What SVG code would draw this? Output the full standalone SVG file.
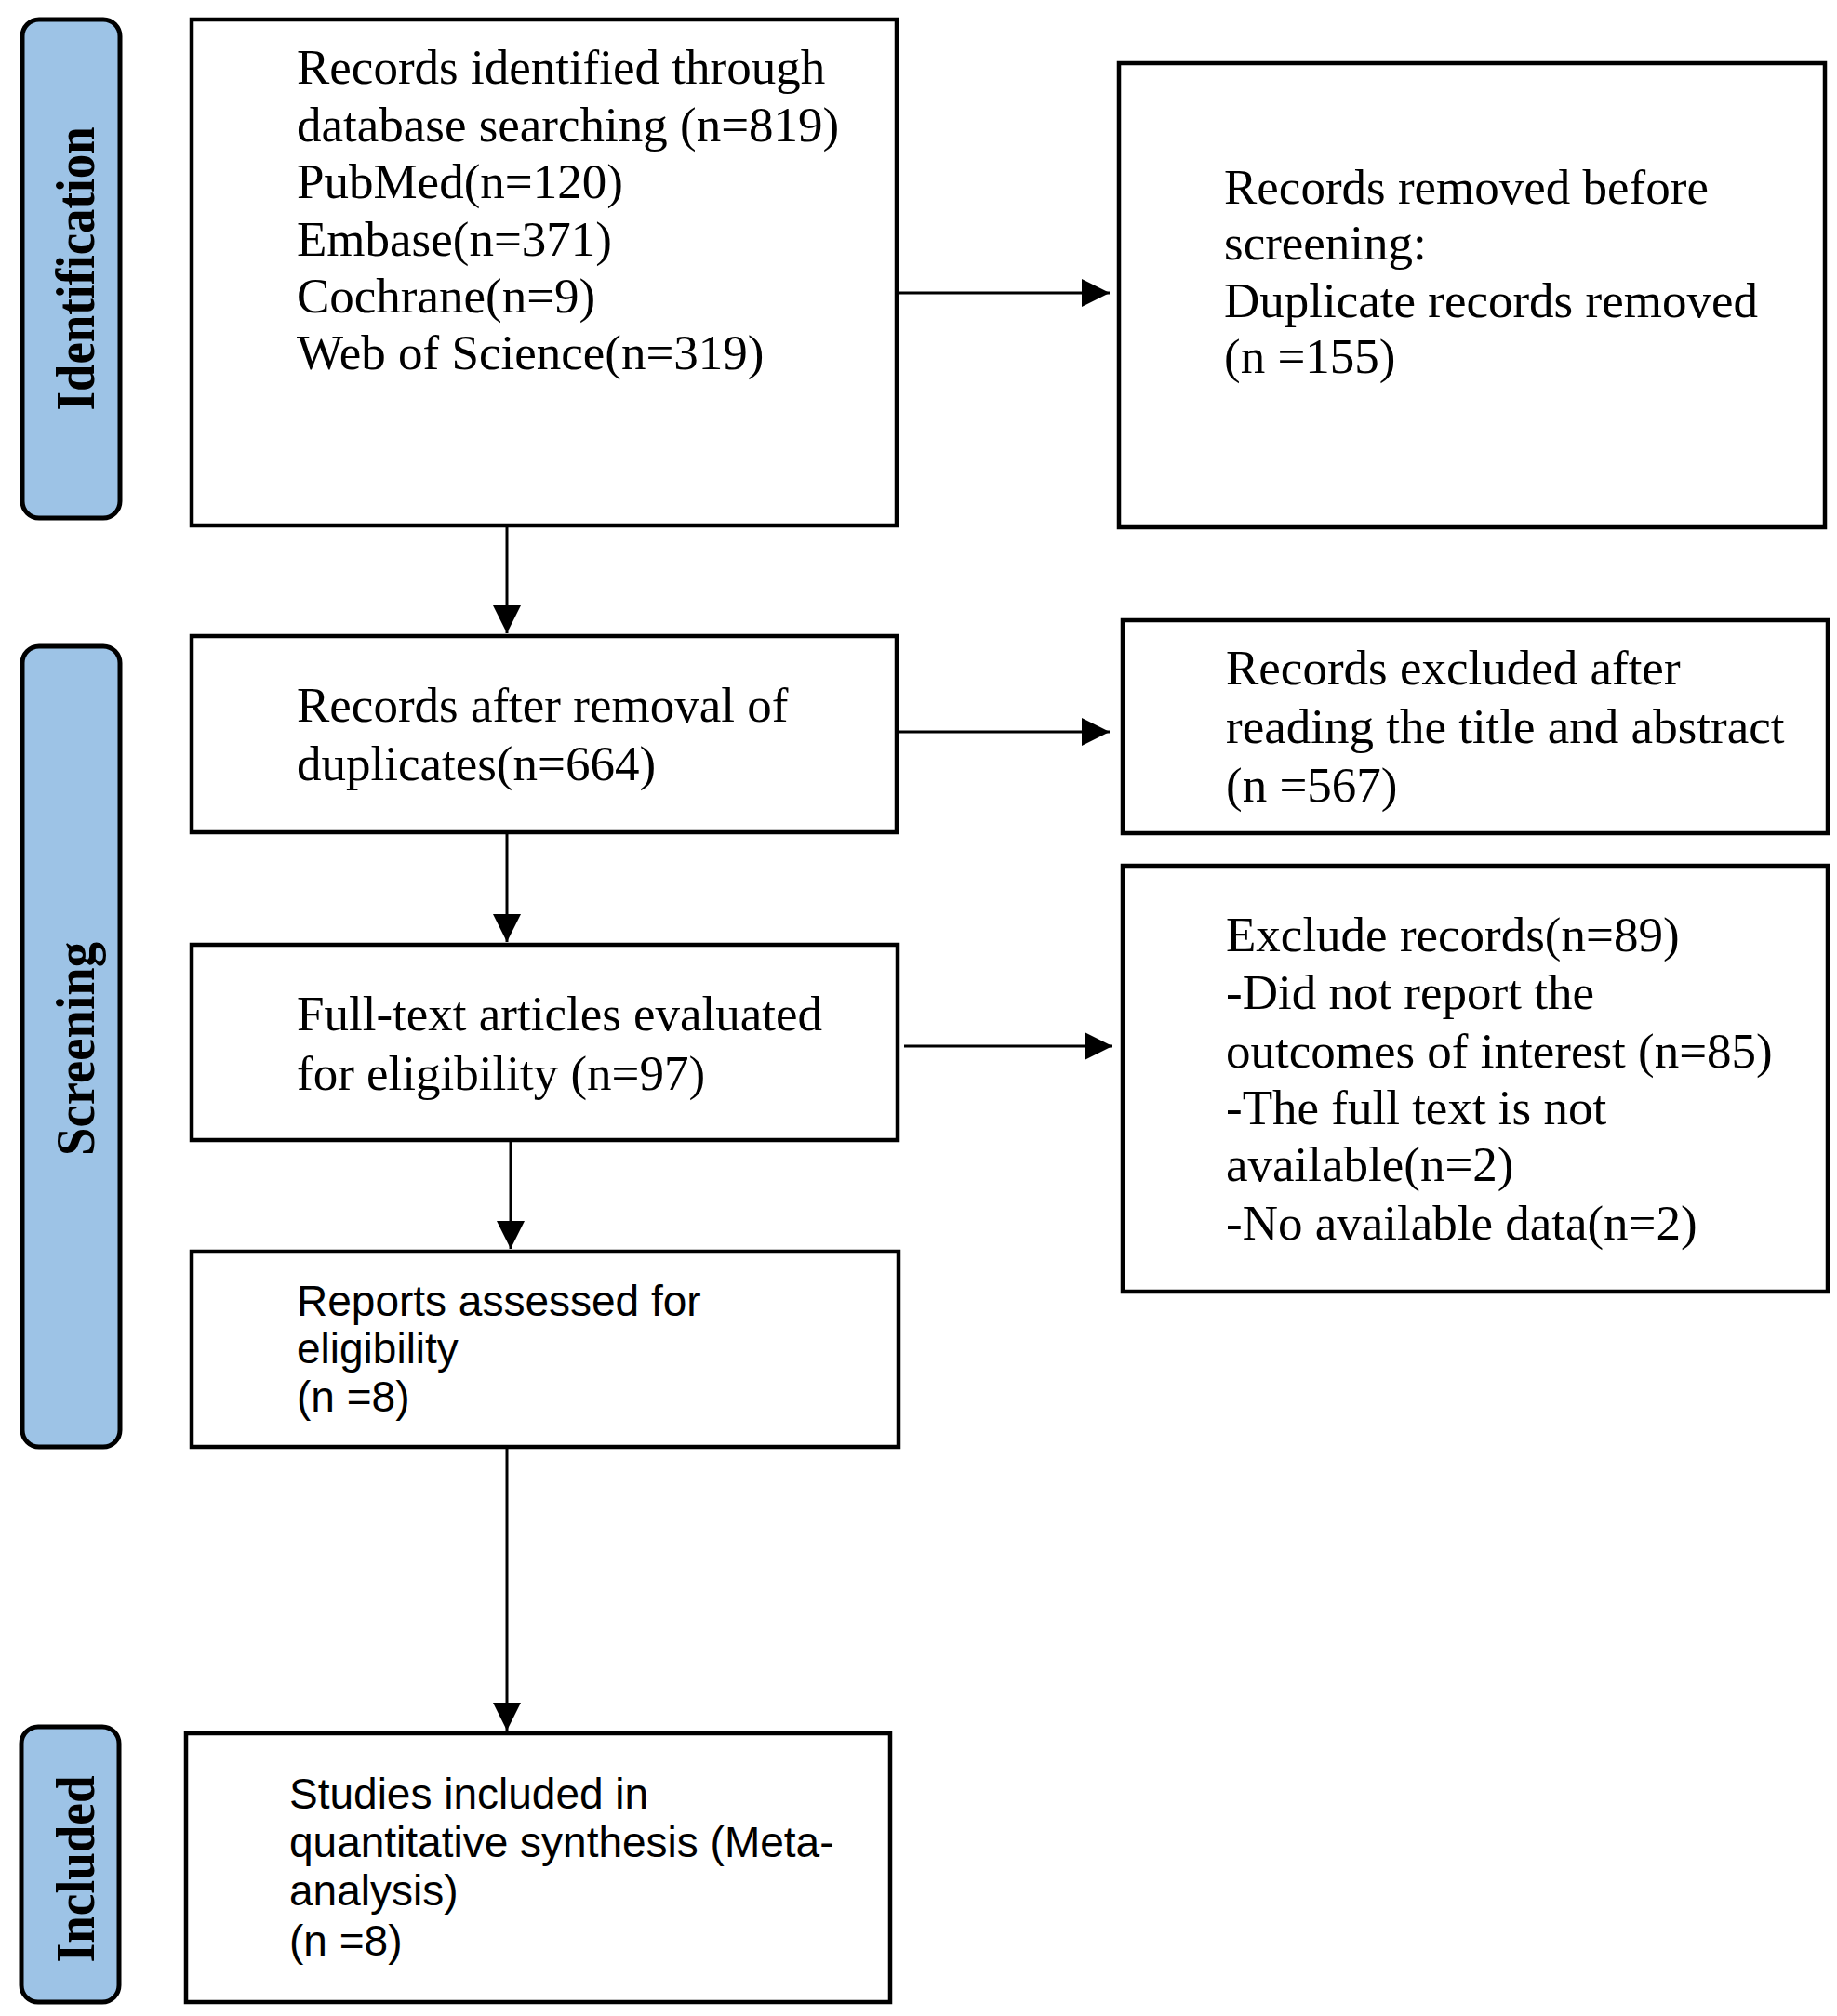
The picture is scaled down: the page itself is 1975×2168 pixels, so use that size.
<svg xmlns="http://www.w3.org/2000/svg" width="1975" height="2168" viewBox="0 0 1975 2168">
<style>
.box{fill:#fff;stroke:#000;stroke-width:4.5}
.tab{fill:#9DC3E6;stroke:#000;stroke-width:5}
.tabt{font-family:"Liberation Serif","Times New Roman",serif;font-weight:bold;font-size:60px;fill:#000}
.ser{font-family:"Liberation Serif","Times New Roman",serif;font-size:53px;fill:#000}
.san{font-family:"Liberation Sans",Arial,sans-serif;font-size:46px;fill:#000}
.con{stroke:#000;stroke-width:3;fill:none;marker-end:url(#ah)}
</style>
<defs>
<marker id="ah" markerUnits="userSpaceOnUse" markerWidth="30" markerHeight="30" refX="30" refY="15" orient="auto">
<path d="M0,0 L30,15 L0,30 Z" fill="#000"/>
</marker>
</defs>
<rect width="1975" height="2168" fill="#fff"/>

<g id="tab-identification">
<rect class="tab" x="24" y="21" width="105" height="536" rx="18"/>
<text class="tabt" transform="translate(101,289) rotate(-90)" text-anchor="middle" textLength="305" lengthAdjust="spacingAndGlyphs">Identification</text>
</g>
<g id="tab-screening">
<rect class="tab" x="24" y="695" width="105" height="861" rx="18"/>
<text class="tabt" transform="translate(101,1128) rotate(-90)" text-anchor="middle" textLength="230" lengthAdjust="spacingAndGlyphs">Screening</text>
</g>
<g id="tab-included">
<rect class="tab" x="23" y="1857" width="105" height="296" rx="18"/>
<text class="tabt" transform="translate(101,2010) rotate(-90)" text-anchor="middle" textLength="201" lengthAdjust="spacingAndGlyphs">Included</text>
</g>

<g id="connectors">
<line class="con" x1="966" y1="315" x2="1193" y2="315"/>
<line class="con" x1="545" y1="567" x2="545" y2="681"/>
<line class="con" x1="966" y1="787" x2="1193" y2="787"/>
<line class="con" x1="545" y1="897" x2="545" y2="1013"/>
<line class="con" x1="972" y1="1125" x2="1196" y2="1125"/>
<line class="con" x1="549" y1="1228" x2="549" y2="1343"/>
<line class="con" x1="545" y1="1558" x2="545" y2="1861"/>
</g>

<g id="n-identified">
<rect class="box" x="206" y="21" width="758" height="544"/>
<text class="ser" x="319" y="90">Records identified through</text>
<text class="ser" x="319" y="152">database searching (n=819)</text>
<text class="ser" x="319" y="213">PubMed(n=120)</text>
<text class="ser" x="319" y="275">Embase(n=371)</text>
<text class="ser" x="319" y="336">Cochrane(n=9)</text>
<text class="ser" x="319" y="397">Web of Science(n=319)</text>
</g>
<g id="n-removed">
<rect class="box" x="1203" y="68" width="759" height="499"/>
<text class="ser" x="1316" y="219">Records removed before</text>
<text class="ser" x="1316" y="279">screening:</text>
<text class="ser" x="1316" y="341">Duplicate records removed</text>
<text class="ser" x="1316" y="401">(n =155)</text>
</g>
<g id="n-after-dup">
<rect class="box" x="206" y="684" width="758" height="211"/>
<text class="ser" x="319" y="776">Records after removal of</text>
<text class="ser" x="319" y="839">duplicates(n=664)</text>
</g>
<g id="n-excluded-title">
<rect class="box" x="1207" y="667" width="758" height="229"/>
<text class="ser" x="1318" y="736">Records excluded after</text>
<text class="ser" x="1318" y="799">reading the title and abstract</text>
<text class="ser" x="1318" y="862">(n =567)</text>
</g>
<g id="n-fulltext">
<rect class="box" x="206" y="1016" width="759" height="210"/>
<text class="ser" x="319" y="1108">Full-text articles evaluated</text>
<text class="ser" x="319" y="1172">for eligibility (n=97)</text>
</g>
<g id="n-excluded-full">
<rect class="box" x="1207" y="931" width="758" height="458"/>
<text class="ser" x="1318" y="1023">Exclude records(n=89)</text>
<text class="ser" x="1318" y="1085">-Did not report the</text>
<text class="ser" x="1318" y="1148">outcomes of interest (n=85)</text>
<text class="ser" x="1318" y="1209">-The full text is not</text>
<text class="ser" x="1318" y="1270">available(n=2)</text>
<text class="ser" x="1318" y="1333">-No available data(n=2)</text>
</g>
<g id="n-reports">
<rect class="box" x="206" y="1346" width="760" height="210"/>
<text class="san" x="319" y="1415">Reports assessed for</text>
<text class="san" x="319" y="1466">eligibility</text>
<text class="san" x="319" y="1518">(n =8)</text>
</g>
<g id="n-included">
<rect class="box" x="200" y="1864" width="757" height="289"/>
<text class="san" x="311" y="1945">Studies included in</text>
<text class="san" x="311" y="1997">quantitative synthesis (Meta-</text>
<text class="san" x="311" y="2049">analysis)</text>
<text class="san" x="311" y="2103">(n =8)</text>
</g>
</svg>
